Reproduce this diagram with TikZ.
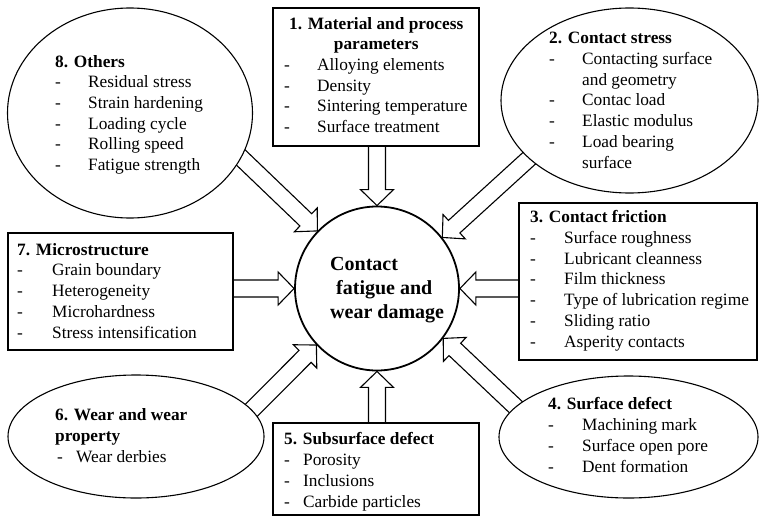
\documentclass[tikz,border=0pt]{standalone}
\usepackage{fontspec}
\setmainfont{Liberation Serif}
\usepackage{tikz}
\usetikzlibrary{calc,backgrounds,shapes.geometric}

\newcommand{\dashitem}[2][34pt]{\makebox[#1][l]{-}#2}
% hollow block arrow from #1 (tail) to #2 (tip)
\newcommand{\fatarrow}[2]{%
  \coordinate (fa-b) at ($(#2)!16pt!(#1)$);
  \draw[fatline] ($(#1)!8.5pt!90:(#2)$) -- ($(fa-b)!8.5pt!-90:(#1)$) -- ($(fa-b)!16.5pt!-90:(#1)$) -- (#2) -- ($(fa-b)!16.5pt!90:(#1)$) -- ($(fa-b)!8.5pt!90:(#1)$) -- ($(#1)!8.5pt!-90:(#2)$);}

\begin{document}
\begin{tikzpicture}[x=1pt,y=-1pt,
  box/.style={draw,fill=white,line width=1.1pt,inner sep=0pt},
  oval/.style={draw,fill=white,ellipse,line width=1.1pt,inner sep=0pt},
  txt/.style={anchor=base west,inner sep=0pt,align=left,font=\fontsize{17.3}{20.7}\selectfont},
  fatline/.style={line width=1.1pt,line join=miter}]
\useasboundingbox (0,0) rectangle (759,519);

% shapes
\node[draw,fill=white,circle,line width=1.8pt,minimum size=164pt,inner sep=0pt] (cc) at (377,288.5) {};
\node[box,minimum width=206pt,minimum height=138pt] (b1) at (376,77) {};
\node[oval,minimum width=257pt,minimum height=185pt] (e2) at (629.5,100.5) {};
\node[box,minimum width=238pt,minimum height=157pt] (b3) at (638,281.5) {};
\node[oval,minimum width=259pt,minimum height=122pt] (e4) at (628.5,437) {};
\node[box,minimum width=206pt,minimum height=92pt] (b5) at (376,469) {};
\node[oval,minimum width=256pt,minimum height=123pt] (e6) at (136,436.5) {};
\node[box,minimum width=225pt,minimum height=117pt] (b7) at (120.5,291.5) {};
\node[oval,minimum width=245pt,minimum height=210pt] (e8) at (130,113) {};

% texts (anchored at the baseline of the last line)
\node[txt,font=\fontsize{20}{24}\selectfont\bfseries] (tc) at (330,318) {Contact\\\hspace*{6pt}fatigue and\\wear damage};
\node[txt] (t1) at (284,132.5) {\makebox[184pt]{\textbf{1. Material and process}}\\
  \makebox[184pt]{\textbf{parameters}}\\
  \dashitem[33pt]{Alloying elements}\\
  \dashitem[33pt]{Density}\\
  \dashitem[33pt]{Sintering temperature}\\
  \dashitem[33pt]{Surface treatment}};
\node[txt] (t2) at (549,168) {\textbf{2. Contact stress}\\
  \dashitem[33pt]{Contacting surface}\\
  \hspace*{33pt}and geometry\\
  \dashitem[33pt]{Contac load}\\
  \dashitem[33pt]{Elastic modulus}\\
  \dashitem[33pt]{Load bearing}\\
  \hspace*{33pt}surface};
\node[txt] (t3) at (530,347) {\textbf{3. Contact friction}\\
  \dashitem{Surface roughness}\\
  \dashitem{Lubricant cleanness}\\
  \dashitem{Film thickness}\\
  \dashitem{Type of lubrication regime}\\
  \dashitem{Sliding ratio}\\
  \dashitem{Asperity contacts}};
\node[txt] (t4) at (548,472) {\textbf{4. Surface defect}\\
  \dashitem{Machining mark}\\
  \dashitem{Surface open pore}\\
  \dashitem{Dent formation}};
\node[txt] (t5) at (284,507) {\textbf{5. Subsurface defect}\\
  \dashitem[19pt]{Porosity}\\
  \dashitem[19pt]{Inclusions}\\
  \dashitem[19pt]{Carbide particles}};
\node[txt] (t6) at (55,462) {\textbf{6. Wear and wear}\\
  \textbf{property}\\
  \hspace*{2pt}\dashitem[19pt]{Wear derbies}};
\node[txt] (t7) at (17,338) {\textbf{7. Microstructure}\\
  \dashitem[35pt]{Grain boundary}\\
  \dashitem[35pt]{Heterogeneity}\\
  \dashitem[35pt]{Microhardness}\\
  \dashitem[35pt]{Stress intensification}};
\node[txt] (t8) at (55,170.5) {\textbf{8. Others}\\
  \dashitem[33pt]{Residual stress}\\
  \dashitem[33pt]{Strain hardening}\\
  \dashitem[33pt]{Loading cycle}\\
  \dashitem[33pt]{Rolling speed}\\
  \dashitem[33pt]{Fatigue strength}};

% block arrows
\begin{pgfonlayer}{background}
\coordinate (a8) at ($(cc.136)!1.2!(e8.-22)$);
\coordinate (a2) at ($(cc.38)!1.2!(e2.210)$);
\coordinate (a4) at ($(cc.-37)!1.2!(e4.165)$);
\coordinate (a6) at ($(cc.-137)!1.2!(e6.13)$);
\fatarrow{cc.north |- b1.south}{cc.north}
\fatarrow{a2}{cc.38}
\fatarrow{b3.west |- cc.east}{cc.east}
\fatarrow{a4}{cc.-37}
\fatarrow{cc.south |- b5.north}{cc.south}
\fatarrow{a6}{cc.-137}
\fatarrow{b7.east |- cc.west}{cc.west}
\fatarrow{a8}{cc.136}
\end{pgfonlayer}
\end{tikzpicture}
\end{document}
